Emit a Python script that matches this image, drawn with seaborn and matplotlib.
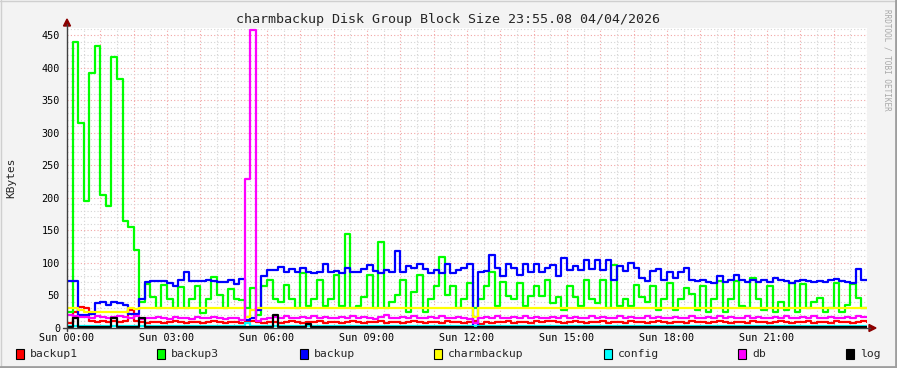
"""RRDtool-style disk group block size chart."""

import matplotlib

matplotlib.use("Agg")
import matplotlib.pyplot as plt
import numpy as np
import pandas as pd
import seaborn as sns
from matplotlib.lines import Line2D
from matplotlib.patches import Polygon, Rectangle
from matplotlib.ticker import MultipleLocator

W, H = 897, 368
STEP_MIN = 10

series_names = ["backup1", "backup3", "backup", "charmbackup", "config", "db", "log"]
series_colors = ["#FF0000", "#00FF00", "#0000FF", "#FFFF00", "#00FFFF", "#FF00FF", "#000000"]
tick_hours = [0, 3, 6, 9, 12, 15, 18, 21]
title = "charmbackup Disk Group Block Size 23:55.08 04/04/2026"

# 10-minute samples, KBytes
backup1 = [8, 25, 32, 30, 10, 9, 10, 9, 10, 9, 10, 28, 10,
           9, 8, 9, 9, 8, 9, 10, 9, 8, 9, 9, 8, 9, 10, 9, 8, 9, 9, 8, 9, 10, 9, 8, 9,
           9, 8, 9, 10, 9, 8, 9, 9, 10, 8, 9, 9, 8, 9,
           10, 9, 8, 9, 9, 10, 8, 9, 9, 8, 9, 10, 9, 8, 9, 9, 8, 10, 9,
           9, 8, 9, 10, 6, 9, 8, 9, 9, 10, 8, 9, 9, 8, 10, 9, 11, 10, 9,
           8, 9, 10, 9, 8, 9, 9, 10, 8, 9, 9, 8, 10, 9, 9, 8, 9, 10, 9, 8,
           9, 9, 8, 10, 9, 9, 8, 9, 10, 9, 8, 9, 9, 8, 10, 9, 9, 8,
           9, 10, 9, 8, 9, 9, 10, 8, 9, 9, 8, 10, 9, 9, 8, 9, 10, 9]
backup3 = [25, 440, 315, 195, 392, 433, 205, 188, 416, 382, 165, 155, 120,
           40, 68, 48, 31, 66, 45, 31, 63, 30, 44, 64, 23, 44, 79, 50, 31, 60, 45, 43, 31, 62, 20, 65,
           74, 45, 40, 66, 45, 30, 84, 34, 45, 74, 34, 45, 81, 34,
           145, 30, 34, 48, 81, 30, 132, 30, 40, 51, 74, 25, 55, 81, 25, 45, 65, 109, 50,
           65, 30, 45, 69, 30, 45, 65, 86, 34, 71, 49, 45, 69, 34, 49, 65, 49, 74, 38,
           48, 28, 65, 48, 34, 74, 44, 38, 74, 30, 97, 34, 45, 34, 66, 48, 40, 65, 28, 45,
           69, 28, 45, 62, 52, 28, 65, 25, 45, 72, 25, 45, 72, 34, 30, 77, 45, 28,
           65, 25, 40, 28, 69, 25, 67, 30, 40, 46, 25, 30, 69, 25, 35, 67, 46, 30]
backup = [72, 72, 20, 20, 22, 38, 40, 35, 40, 38, 35, 22, 22,
          45, 70, 72, 72, 72, 69, 65, 74, 86, 72, 72, 72, 73, 72, 70, 70, 73, 68, 76, 12, 15, 28, 80,
          89, 89, 94, 86, 91, 86, 92, 86, 84, 86, 99, 86, 88, 84,
          92, 86, 86, 90, 97, 88, 84, 89, 86, 118, 86, 95, 92, 99, 90, 84, 89, 84, 99,
          85, 89, 92, 98, 3, 86, 88, 112, 92, 80, 98, 92, 82, 98, 86, 98, 86, 92, 97,
          80, 107, 89, 95, 89, 104, 90, 104, 89, 105, 74, 95, 88, 100, 92, 77, 72, 88, 90, 74,
          86, 77, 86, 92, 74, 72, 74, 70, 69, 80, 71, 74, 82, 74, 71, 74, 71, 74,
          71, 77, 74, 72, 69, 72, 74, 72, 71, 72, 71, 74, 76, 72, 70, 69, 90, 74]
charmbackup = [31, 31, 27, 25, 25, 24, 25, 24, 25, 24, 25, 30, 29,
               30, 31, 30, 30, 31, 30, 30, 31, 30, 30, 31, 30, 30, 31, 30, 30, 31, 30, 30, 17, 28, 30, 31,
               30, 30, 31, 30, 30, 31, 30, 30, 31, 30, 30, 31, 30, 30,
               31, 30, 30, 31, 30, 30, 31, 30, 30, 31, 30, 30, 31, 30, 30, 31, 30, 30, 31,
               30, 30, 31, 30, 17, 30, 31, 30, 30, 31, 30, 30, 31, 30, 30, 31, 30, 30, 31,
               30, 30, 31, 30, 30, 31, 30, 30, 31, 30, 30, 31, 30, 30, 31, 30, 30, 31, 30, 30,
               31, 30, 30, 31, 30, 30, 31, 30, 30, 31, 30, 30, 31, 30, 30, 31, 30, 30,
               31, 30, 30, 31, 30, 30, 31, 30, 30, 31, 30, 30, 31, 30, 30, 31, 30, 30]
config = [3, 3, 3, 3, 3, 3, 3, 3, 3, 3, 3, 3, 3,
          3, 3, 3, 3, 3, 3, 3, 3, 3, 3, 3, 3, 3, 3, 3, 3, 3, 3, 3, 8, 3, 3, 3,
          3, 3, 3, 3, 3, 3, 3, 3, 3, 3, 3, 3, 3, 3,
          3, 3, 3, 3, 3, 3, 3, 3, 3, 3, 3, 3, 3, 3, 3, 3, 3, 3, 3,
          3, 3, 3, 3, 3, 3, 3, 3, 3, 3, 3, 3, 3, 3, 3, 3, 3, 3, 3,
          3, 3, 3, 3, 3, 3, 3, 3, 3, 3, 3, 3, 3, 3, 3, 3, 3, 3, 3, 3,
          3, 3, 3, 3, 3, 3, 3, 3, 3, 3, 3, 3, 3, 3, 3, 3, 3, 3,
          3, 3, 3, 3, 3, 3, 3, 3, 3, 3, 3, 3, 3, 3, 3, 3, 3, 3]
db = [20, 19, 17, 17, 16, 18, 17, 16, 17, 19, 17, 16, 18,
      14, 16, 15, 17, 16, 14, 17, 15, 16, 14, 17, 16, 15, 17, 16, 14, 16, 15, 12, 229, 458, 10, 14,
      16, 17, 15, 18, 16, 15, 17, 16, 18, 15, 17, 16, 15, 17,
      16, 18, 15, 17, 16, 14, 17, 20, 16, 15, 17, 16, 18, 15, 16, 17, 15, 18, 16,
      15, 17, 16, 14, 8, 16, 17, 15, 18, 16, 15, 17, 16, 18, 15, 17, 16, 15, 17,
      16, 18, 15, 17, 16, 15, 18, 16, 17, 15, 16, 18, 15, 17, 16, 15, 18, 16, 17, 15,
      16, 17, 15, 16, 18, 16, 15, 17, 16, 18, 15, 17, 16, 15, 18, 16, 17, 16,
      15, 17, 16, 18, 16, 15, 17, 16, 18, 15, 16, 17, 16, 15, 17, 16, 18, 17]
log = [1, 15, 1, 1, 1, 1, 1, 1, 15, 1, 1, 1, 1,
       15, 1, 1, 1, 1, 1, 1, 1, 1, 1, 1, 1, 1, 1, 1, 1, 1, 1, 1, 1, 1, 1, 1,
       1, 20, 1, 1, 1, 1, 1, 6, 1, 1, 1, 1, 1, 1,
       1, 1, 1, 1, 1, 1, 1, 1, 1, 1, 1, 1, 1, 1, 1, 1, 1, 1, 1,
       1, 1, 1, 1, 0, 1, 1, 1, 1, 1, 1, 1, 1, 1, 1, 1, 1, 1, 1,
       1, 1, 1, 1, 1, 1, 1, 1, 1, 1, 1, 1, 1, 1, 1, 1, 1, 1, 1, 1,
       1, 1, 1, 1, 1, 1, 1, 1, 1, 1, 1, 1, 1, 1, 1, 1, 1, 1,
       1, 1, 1, 1, 1, 1, 1, 1, 1, 1, 1, 1, 1, 1, 1, 1, 1, 1]

values = dict(zip(series_names, [backup1, backup3, backup, charmbackup, config, db, log]))


def px(x, y):
    """Pixel position -> figure fraction."""
    return x / W, 1 - y / H


frames = []
for name in series_names:
    vals = values[name]
    hours = np.arange(len(vals) + 1) * STEP_MIN / 60
    frames.append(pd.DataFrame({"hour": hours, "kb": vals + [vals[-1]], "series": name}))
df = pd.concat(frames, ignore_index=True)

sns.set_style("white")
plt.rcParams["font.family"] = ["DejaVu Sans Mono"]

fig = plt.figure(figsize=(W / 100, H / 100), dpi=100, facecolor="#F3F3F3")
ax = fig.add_axes([67 / W, 40 / H, 800 / W, 300 / H])
ax.set_facecolor("white")

sns.lineplot(data=df, x="hour", y="kb", hue="series", hue_order=series_names,
             palette=dict(zip(series_names, series_colors)), drawstyle="steps-post",
             linewidth=1.6, estimator=None, legend=False, ax=ax)

ax.set_xlim(0, 24)
ax.set_ylim(0, 461)
ax.xaxis.set_major_locator(MultipleLocator(1))
ax.xaxis.set_minor_locator(MultipleLocator(0.5))
ax.yaxis.set_major_locator(MultipleLocator(50))
ax.yaxis.set_minor_locator(MultipleLocator(10))
ax.set_xticklabels([f"Sun {int(h):02d}:00" if int(h) in tick_hours else ""
                    for h in ax.get_xticks()])
ax.grid(which="major", color="#F2A6A6", linestyle=(0, (1, 2)), linewidth=0.8)
ax.grid(which="minor", color="#D4D4D4", linestyle=(0, (1, 2)), linewidth=0.8)
ax.set_axisbelow(True)
ax.tick_params(axis="both", which="both", length=0, labelsize=7.3, colors="#000000", pad=5)
ax.tick_params(axis="x", pad=3.5)
ax.set_xlabel("")
ax.set_ylabel("")
for side in ["top", "right", "left", "bottom"]:
    ax.spines[side].set_visible(False)

# axes with arrows
axis_col = "#404040"
fig.add_artist(Line2D(*zip(px(67, 331), px(67, 24)), color=axis_col, linewidth=1))
fig.add_artist(Line2D(*zip(px(63, 328), px(870, 328)), color=axis_col, linewidth=1))
fig.add_artist(Polygon([px(67, 19), px(63.5, 26), px(70.5, 26)], closed=True, color="#8B0000"))
fig.add_artist(Polygon([px(876, 328), px(869, 324.5), px(869, 331.5)], closed=True, color="#8B0000"))

fig.text(*px(448, 19), title, ha="center", va="center", fontsize=9.6)
fig.text(*px(11, 178), "KBytes", ha="center", va="center", rotation=90, fontsize=8)
fig.text(*px(887, 60), "RRDTOOL / TOBI OETIKER", ha="center", va="center",
         rotation=270, fontsize=5.5, color="#A8A8A8")

# legend
box_x = [16, 157, 300, 434, 604, 738, 846]
for bx, name, col in zip(box_x, series_names, series_colors):
    fig.add_artist(Rectangle(px(bx, 359), 8 / W, 10 / H, facecolor=col,
                             edgecolor="black", linewidth=0.8))
    fig.text(*px(bx + 14, 354), name, ha="left", va="center", fontsize=8.2)

# 3d frame
fig.add_artist(Line2D(*zip(px(0, 0.5), px(W, 0.5)), color="#CFCFCF", linewidth=1))
fig.add_artist(Line2D(*zip(px(0.5, 0), px(0.5, H)), color="#CFCFCF", linewidth=1))
fig.add_artist(Line2D(*zip(px(0, H - 1), px(W, H - 1)), color="#9E9E9E", linewidth=2))
fig.add_artist(Line2D(*zip(px(W - 1, 0), px(W - 1, H)), color="#9E9E9E", linewidth=2))

fig.savefig("out.png", dpi=100, facecolor=fig.get_facecolor())
